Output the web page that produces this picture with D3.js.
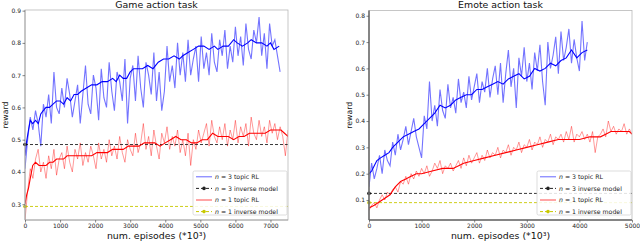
<!DOCTYPE html>
<html>
<head>
<meta charset="utf-8">
<script src="https://cdn.jsdelivr.net/npm/d3@7"></script>
<style>
  body { margin: 0; background: #fff; }
  svg { display: block; font-family: "DejaVu Sans", sans-serif; }
</style>
</head>
<body>
<div id="chart"></div>
<script>
// ---- Game action task ----
const gameRawStep = 75;
const gameBlueRaw = [0.41,0.50,0.57,0.53,0.59,0.55,0.48,0.61,0.57,0.64,0.55,0.71,0.60,0.58,0.66,0.60,0.69,0.64,0.57,0.62,
  0.67,0.55,0.64,0.73,0.61,0.58,0.70,0.66,0.56,0.72,0.63,0.60,0.74,0.65,0.59,0.71,0.68,0.62,0.75,0.55,
  0.69,0.73,0.62,0.76,0.66,0.60,0.74,0.70,0.64,0.77,0.62,0.71,0.59,0.65,0.79,0.68,0.73,0.66,0.80,0.70,
  0.77,0.68,0.81,0.70,0.75,0.79,0.68,0.82,0.72,0.77,0.70,0.83,0.74,0.71,0.81,0.76,0.84,0.72,0.79,0.74,
  0.85,0.76,0.82,0.73,0.86,0.78,0.75,0.84,0.80,0.88,0.76,0.83,0.72,0.86,0.79,0.81,0.76,0.71];
const gameRedRaw = [0.25,0.34,0.41,0.38,0.44,0.47,0.40,0.43,0.38,0.45,0.41,0.47,0.39,0.44,0.46,0.41,0.48,0.43,0.40,0.47,
  0.44,0.49,0.42,0.46,0.43,0.48,0.45,0.41,0.49,0.44,0.47,0.43,0.50,0.45,0.48,0.44,0.51,0.46,0.43,0.50,
  0.47,0.45,0.52,0.46,0.49,0.55,0.47,0.51,0.45,0.53,0.48,0.44,0.52,0.49,0.54,0.47,0.51,0.48,0.53,0.46,
  0.50,0.45,0.52,0.42,0.50,0.47,0.53,0.49,0.52,0.55,0.48,0.56,0.51,0.49,0.54,0.50,0.55,0.48,0.53,0.50,
  0.56,0.49,0.54,0.51,0.55,0.48,0.57,0.52,0.50,0.56,0.51,0.54,0.49,0.56,0.52,0.55,0.50,0.54,0.51,0.45,0.53];
const gameBlueX = [0,40,100,150,220,300,380,450,520,600,700,800,900,1000,1100,1200,1300,1400,1500,1600,
  1750,1900,2050,2200,2350,2500,2600,2700,2800,2900,3000,3100,3200,3350,3500,3650,3800,3950,4100,4250,
  4400,4500,4650,4800,4950,5100,5250,5400,5500,5650,5800,5950,6050,6200,6350,6450,6600,6750,6900,7000,7100,7250];
const gameBlueY = [0.45,0.49,0.53,0.56,0.55,0.56,0.55,0.58,0.59,0.60,0.60,0.61,0.62,0.62,0.61,0.63,0.62,0.64,0.64,0.65,
  0.66,0.67,0.67,0.68,0.68,0.69,0.68,0.70,0.69,0.69,0.71,0.72,0.72,0.72,0.73,0.72,0.74,0.75,0.75,0.76,
  0.75,0.76,0.77,0.78,0.79,0.79,0.78,0.79,0.78,0.79,0.79,0.81,0.80,0.79,0.80,0.81,0.80,0.80,0.79,0.80,0.78,0.79];
const gameRedX = [0,50,100,150,220,300,400,500,600,700,800,900,1000,1100,1200,1300,1450,1600,
  1750,1900,2050,2200,2350,2500,2650,2800,2950,3100,3250,3400,3550,3700,3850,4000,4150,4300,4450,4600,
  4750,4900,5050,5200,5350,5500,5650,5800,5950,6100,6250,6400,6550,6700,6850,7000,7150,7300,7400,7500];
const gameRedY = [0.30,0.33,0.35,0.38,0.42,0.43,0.42,0.42,0.42,0.43,0.43,0.44,0.44,0.44,0.45,0.45,0.45,0.45,
  0.45,0.45,0.46,0.46,0.46,0.47,0.47,0.47,0.48,0.48,0.48,0.49,0.49,0.49,0.48,0.49,0.50,0.51,0.50,0.50,
  0.49,0.49,0.50,0.50,0.52,0.51,0.51,0.51,0.50,0.51,0.51,0.52,0.52,0.52,0.52,0.53,0.53,0.53,0.52,0.51];
const gameInverse = { n3: 0.485, n1: 0.293 };
const gameYTicks = [0.3,0.4,0.5,0.6,0.7,0.8,0.9];
const gameXTicks = [0,1000,2000,3000,4000,5000,6000,7000];

// ---- Emote action task ----
const emoteRawStep = 50;
const emoteBlueRaw = [0.15,0.24,0.18,0.22,0.27,0.20,0.29,0.25,0.23,0.32,0.27,0.35,0.29,0.33,0.38,0.31,0.36,0.41,0.34,0.30,
  0.26,0.42,0.37,0.55,0.40,0.46,0.38,0.52,0.44,0.41,0.54,0.45,0.49,0.43,0.56,0.47,0.51,0.45,0.57,0.48,
  0.53,0.58,0.47,0.55,0.51,0.60,0.49,0.56,0.61,0.50,0.62,0.47,0.58,0.67,0.53,0.60,0.45,0.64,0.57,0.68,
  0.55,0.62,0.52,0.66,0.59,0.69,0.55,0.46,0.70,0.60,0.65,0.72,0.58,0.74,0.63,0.68,0.75,0.62,0.71,0.64,
  0.59,0.78,0.63,0.70];
const emoteRedRaw = [0.06,0.08,0.09,0.07,0.10,0.12,0.10,0.13,0.12,0.14,0.15,0.13,0.17,0.16,0.19,0.16,0.20,0.18,0.21,0.19,
  0.22,0.20,0.23,0.19,0.21,0.24,0.22,0.25,0.20,0.23,0.22,0.24,0.21,0.23,0.25,0.22,0.26,0.23,0.27,0.24,
  0.26,0.28,0.24,0.27,0.25,0.29,0.26,0.28,0.27,0.30,0.26,0.29,0.28,0.31,0.27,0.30,0.29,0.32,0.28,0.31,
  0.30,0.33,0.29,0.32,0.31,0.34,0.30,0.33,0.32,0.35,0.31,0.34,0.33,0.35,0.32,0.36,0.33,0.38,0.32,0.35,
  0.34,0.36,0.33,0.35,0.32,0.36,0.28,0.34,0.35,0.37,0.34,0.40,0.36,0.38,0.35,0.37,0.36,0.39,0.35,0.37,0.35];
const emoteBlueX = [0,50,100,150,220,300,380,450,550,650,750,850,950,1050,1150,1250,1350,1450,1550,1650,
  1750,1850,1950,2050,2150,2250,2350,2450,2550,2650,2750,2850,2950,3050,3150,3250,3350,3450,3550,3650,
  3750,3850,3950,4050,4150];
const emoteBlueY = [0.20,0.21,0.23,0.25,0.26,0.27,0.28,0.30,0.32,0.34,0.35,0.36,0.37,0.39,0.41,0.43,0.46,0.45,0.46,0.48,
  0.49,0.50,0.50,0.52,0.52,0.53,0.54,0.55,0.54,0.56,0.57,0.58,0.56,0.57,0.60,0.59,0.60,0.62,0.61,0.63,
  0.64,0.67,0.64,0.66,0.67];
const emoteRedX = [0,100,250,400,500,600,700,800,900,1000,1200,1400,1600,1800,2000,2200,2400,2600,2800,3000,
  3200,3400,3600,3800,4000,4200,4400,4500,4600,4800,4950,5000];
const emoteRedY = [0.07,0.08,0.10,0.12,0.15,0.17,0.18,0.19,0.20,0.20,0.21,0.22,0.22,0.24,0.25,0.26,0.27,0.28,0.29,0.30,
  0.31,0.32,0.33,0.33,0.33,0.34,0.34,0.35,0.36,0.36,0.36,0.35];
const emoteInverse = { n3: 0.125, n1: 0.09 };
const emoteYTicks = [0.1,0.2,0.3,0.4,0.5,0.6,0.7,0.8];
const emoteXTicks = [0,1000,2000,3000,4000,5000];

const legendLabels = [
  { n: "3", txt: " topic RL" },
  { n: "3", txt: " inverse model" },
  { n: "1", txt: " topic RL" },
  { n: "1", txt: " inverse model" }
];

const W = 640, H = 243;
const svg = d3.select("#chart").append("svg").attr("width", W).attr("height", H);

function drawPanel(cfg) {
  const { left, right, top, bottom } = cfg.box;
  const x = d3.scaleLinear().domain(cfg.xDomain).range([left, right]);
  const y = d3.scaleLinear().domain(cfg.yDomain).range([bottom, top]);
  const g = svg.append("g");

  g.append("clipPath").attr("id", cfg.id + "-clip")
    .append("rect").attr("x", left).attr("y", top).attr("width", right - left).attr("height", bottom - top);
  const plot = g.append("g").attr("clip-path", `url(#${cfg.id}-clip)`);

  const line = d3.line().x(d => x(d[0])).y(d => y(d[1]));
  const rawPts = (arr, step) => arr.map((v, i) => [i * step, v]);

  // raw noisy curves
  plot.append("path").attr("d", line(rawPts(cfg.blueRaw, cfg.step)))
    .attr("fill", "none").attr("stroke", "#0000ff").attr("stroke-opacity", 0.55).attr("stroke-width", 1.1);
  plot.append("path").attr("d", line(rawPts(cfg.redRaw, cfg.step)))
    .attr("fill", "none").attr("stroke", "#ff0000").attr("stroke-opacity", 0.4).attr("stroke-width", 1);

  // inverse model baselines
  plot.append("line").attr("x1", x(cfg.xDomain[0])).attr("x2", x(cfg.xDomain[1]))
    .attr("y1", y(cfg.inverse.n3)).attr("y2", y(cfg.inverse.n3))
    .attr("stroke", "#222").attr("stroke-width", 0.9).attr("stroke-dasharray", "3,2");
  plot.append("line").attr("x1", x(cfg.xDomain[0])).attr("x2", x(cfg.xDomain[1]))
    .attr("y1", y(cfg.inverse.n1)).attr("y2", y(cfg.inverse.n1))
    .attr("stroke", "#c8c800").attr("stroke-width", 0.9).attr("stroke-dasharray", "3,2");

  // smoothed curves
  plot.append("path").attr("d", line(d3.zip(cfg.redX, cfg.redY)))
    .attr("fill", "none").attr("stroke", "#ff0000").attr("stroke-width", 1.1);
  plot.append("path").attr("d", line(d3.zip(cfg.blueX, cfg.blueY)))
    .attr("fill", "none").attr("stroke", "#0000ff").attr("stroke-width", 1.1);

  g.append("circle").attr("cx", x(0)).attr("cy", y(cfg.inverse.n3)).attr("r", 1.8).attr("fill", "#000");
  g.append("circle").attr("cx", x(0)).attr("cy", y(cfg.inverse.n1)).attr("r", 1.8).attr("fill", "#bfbf00");

  // frame
  g.append("rect").attr("x", left).attr("y", top).attr("width", right - left).attr("height", bottom - top)
    .attr("fill", "none").attr("stroke", "#b8b8b8").attr("stroke-width", 0.8);
  g.append("line").attr("x1", left).attr("x2", left).attr("y1", top).attr("y2", bottom)
    .attr("stroke", cfg.spine).attr("stroke-width", cfg.spineW);
  g.append("line").attr("x1", left).attr("x2", right).attr("y1", bottom).attr("y2", bottom)
    .attr("stroke", cfg.spine).attr("stroke-width", cfg.spineW);

  // axes
  const xa = g.append("g").attr("transform", `translate(0,${bottom})`)
    .call(d3.axisBottom(x).tickValues(cfg.xTicks).tickSize(2.5).tickPadding(1.5).tickFormat(d3.format("d")));
  const ya = g.append("g").attr("transform", `translate(${left},0)`)
    .call(d3.axisLeft(y).tickValues(cfg.yTicks).tickSize(2.5).tickPadding(1.5).tickFormat(d3.format(".1f")));
  [xa, ya].forEach(a => {
    a.select(".domain").remove();
    a.selectAll(".tick line").attr("stroke", "#555").attr("stroke-width", 0.7);
    a.selectAll(".tick text").attr("fill", "#222").style("font-size", "6px").style("font-family", "DejaVu Sans");
  });

  const cx = (left + right) / 2;
  g.append("text").attr("x", cx).attr("y", 8).attr("text-anchor", "middle")
    .style("font-size", "9.4px").attr("fill", "#111").text(cfg.title);
  g.append("text").attr("x", cx).attr("y", 239).attr("text-anchor", "middle")
    .style("font-size", "9.4px").attr("fill", "#111").text("num. episodes (*10³)");
  g.append("text").attr("transform", `translate(${cfg.ylabX},${(top + bottom) / 2}) rotate(-90)`)
    .attr("text-anchor", "middle").attr("dominant-baseline", "central")
    .style("font-size", "7.8px").attr("fill", "#111").text("reward");

  // legend
  const lx = cfg.legend[0], ly = cfg.legend[1];
  const lg = g.append("g");
  lg.append("rect").attr("x", lx).attr("y", ly).attr("width", right - 1 - lx).attr("height", 44)
    .attr("rx", 1.5).attr("fill", "#fff").attr("fill-opacity", 0.85).attr("stroke", "#cfcfcf").attr("stroke-width", 0.7);
  const styles = [
    { c: "#0000ff", op: 0.6, dash: null, dot: false },
    { c: "#222", op: 1, dash: "3,2", dot: true },
    { c: "#ff0000", op: 0.7, dash: null, dot: false },
    { c: "#c8c800", op: 1, dash: "3,2", dot: true }
  ];
  legendLabels.forEach((lab, i) => {
    const ry = ly + 5.8 + i * 11.6;
    const s = styles[i];
    lg.append("line").attr("x1", lx + 3).attr("x2", lx + 19).attr("y1", ry).attr("y2", ry)
      .attr("stroke", s.c).attr("stroke-opacity", s.op).attr("stroke-width", 1)
      .attr("stroke-dasharray", s.dash);
    if (s.dot) lg.append("circle").attr("cx", lx + 11).attr("cy", ry).attr("r", 1.8).attr("fill", s.c);
    const t = lg.append("text").attr("x", lx + 22).attr("y", ry + 2.1)
      .style("font-size", "6.2px").attr("fill", "#222");
    t.append("tspan").style("font-style", "italic").text("n");
    t.append("tspan").text(" = " + lab.n + lab.txt);
  });
}

drawPanel({
  id: "game", title: "Game action task",
  box: { left: 25, right: 288, top: 10, bottom: 220 },
  xDomain: [0, 7500], yDomain: [0.251, 0.902],
  xTicks: gameXTicks, yTicks: gameYTicks,
  step: gameRawStep, blueRaw: gameBlueRaw, redRaw: gameRedRaw,
  blueX: gameBlueX, blueY: gameBlueY, redX: gameRedX, redY: gameRedY,
  inverse: gameInverse, spine: "#999", spineW: 0.8, ylabX: 5, legend: [193, 171]
});

drawPanel({
  id: "emote", title: "Emote action task",
  box: { left: 369, right: 632, top: 10.5, bottom: 220 },
  xDomain: [0, 5000], yDomain: [0.024, 0.82],
  xTicks: emoteXTicks, yTicks: emoteYTicks,
  step: emoteRawStep, blueRaw: emoteBlueRaw, redRaw: emoteRedRaw,
  blueX: emoteBlueX, blueY: emoteBlueY, redX: emoteRedX, redY: emoteRedY,
  inverse: emoteInverse, spine: "#666", spineW: 1.5, ylabX: 349, legend: [537, 171]
});
</script>
</body>
</html>
